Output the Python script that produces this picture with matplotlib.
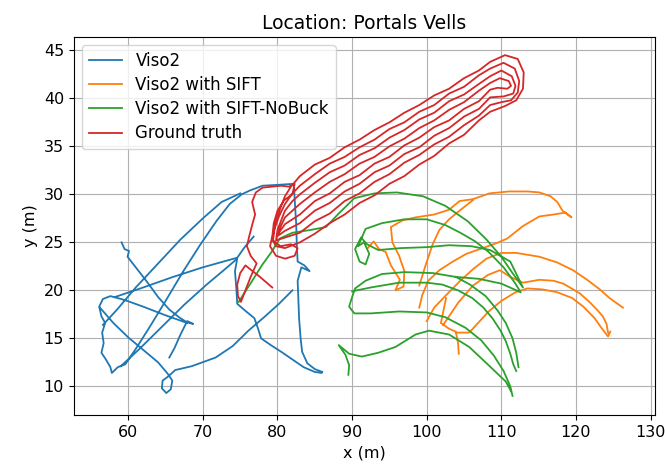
import numpy as np
import matplotlib
matplotlib.use("Agg")
import matplotlib.pyplot as plt

nan = np.nan
GAP = (nan, nan)

# Trajectories (x, y in metres), GAP = break in the drawn line
viso2 = [
    (59.1, 25.0), (59.5, 24.3), (60.1, 24.1), (59.9, 23.5), (61.0, 22.4), (62.5, 20.9), (64.0, 19.3),
    (65.5, 18.0), (66.8, 17.2), (67.8, 16.7), (68.7, 16.5), (67.9, 16.8), (67.0, 15.4), (66.2, 14.0),
    (65.5, 13.0), GAP,
    (67.9, 16.6), (65.0, 17.4), (62.0, 18.3), (59.5, 19.0), (57.6, 19.4), (56.6, 19.1), (56.1, 18.3),
    (56.4, 17.3), (56.9, 16.6), (56.5, 15.6), (56.7, 14.5), (56.4, 13.5), (57.0, 12.8), (57.6, 12.0),
    (57.8, 11.4), (58.6, 12.0), (59.6, 12.3), (61.0, 13.9), (62.8, 16.1), (65.0, 18.9), (67.3, 21.9),
    (69.6, 24.7), (71.8, 27.2), (73.6, 29.0), (75.2, 30.0), (76.3, 30.4), (78.0, 30.9), (80.3, 31.0),
    (82.2, 31.1), (82.3, 29.5), (82.5, 27.0), (82.6, 24.5), (82.7, 23.0), (83.6, 22.6), (84.3, 22.0),
    (83.2, 22.4), (82.7, 21.0), (82.8, 19.0), (82.9, 17.0), (83.1, 15.0), (83.3, 13.6), (84.0, 12.4),
    (85.0, 11.8), (86.0, 11.5), GAP,
    (56.2, 18.2), (58.0, 16.6), (60.0, 15.1), (62.0, 13.8), (64.0, 12.5), (65.3, 11.3), (65.9, 10.6),
    (65.7, 9.7), (65.1, 9.3), (64.5, 9.8), (64.6, 10.6), (65.3, 11.0), (66.3, 11.7), (68.5, 12.1),
    (71.7, 13.0), (74.0, 14.2), (76.1, 15.8), (78.2, 17.2), (80.2, 18.6), (82.0, 20.0), GAP,
    (59.0, 12.1), (61.5, 13.9), (64.5, 16.2), (67.5, 18.5), (70.5, 20.6), (72.8, 22.1), (74.6, 23.3),
    (74.3, 22.0), (74.5, 20.0), (74.6, 18.6), (75.8, 17.8), (76.9, 17.1), (77.4, 16.0), (77.8, 15.0),
    (79.1, 14.3), (80.5, 13.6), (82.0, 12.8), (83.5, 12.0), (85.0, 11.5), (85.9, 11.4), GAP,
    (56.6, 16.4), (58.5, 18.0), (61.0, 20.3), (64.0, 22.8), (67.0, 25.3), (70.0, 27.5), (72.5, 29.2),
    (75.0, 30.1), GAP,
    (58.2, 19.3), (62.0, 20.3), (66.0, 21.4), (70.0, 22.4), (74.6, 23.4), (75.6, 24.5), (76.8, 25.6),
]

viso2_sift = [
    (92.1, 24.4), (92.9, 25.1), (93.6, 24.3), (94.5, 24.0), (95.2, 22.6), (96.4, 21.1), (95.8, 20.0),
    (96.9, 20.4), (97.0, 22.0), (96.3, 23.6), (95.4, 25.0), (95.2, 26.6), (96.8, 27.3), (98.5, 27.6),
    (101.0, 27.9), (103.0, 28.4), (104.4, 29.3), (106.2, 29.5), (108.4, 30.1), (111.0, 30.3),
    (113.5, 30.3), (115.1, 30.2), (116.6, 29.8), (117.5, 29.2), (118.2, 28.3), (119.4, 27.6),
    (118.6, 28.1), (117.0, 27.9), (115.1, 27.7), (112.9, 26.7), (110.8, 25.4), (109.3, 24.9),
    (107.5, 24.4), (105.3, 23.8), (103.5, 23.0), (101.7, 22.1), (100.2, 21.0), (99.4, 19.5),
    (99.0, 18.2), GAP,
    (100.0, 16.8), (101.0, 18.2), (102.6, 19.5), (104.5, 21.0), (106.2, 22.2), (108.0, 23.3),
    (110.0, 23.9), (112.0, 23.9), (115.1, 23.5), (117.5, 22.9), (119.6, 22.1), (121.5, 21.1),
    (123.2, 20.1), (124.5, 19.2), (125.4, 18.7), (126.3, 18.2), GAP,
    (102.2, 16.4), (103.0, 17.3), (104.2, 18.7), (106.2, 20.5), (108.2, 21.6), (109.8, 22.1),
    (111.2, 21.4), (112.9, 20.8), (115.1, 21.1), (117.0, 21.0), (118.3, 20.7), (120.5, 19.7),
    (121.8, 18.8), (122.8, 18.0), (123.6, 17.3), (124.1, 16.5), (124.3, 15.6), GAP,
    (102.6, 19.2), (102.3, 18.1), (101.9, 16.6), (103.0, 16.0), (103.9, 15.7), (104.2, 14.5),
    (104.3, 13.4), GAP,
    (103.9, 15.6), (105.7, 15.6), (107.0, 16.7), (108.3, 17.8), (110.0, 18.9), (111.9, 19.8),
    (113.5, 20.2), (115.5, 20.1), (117.5, 19.8), (119.5, 19.2), (121.0, 18.3), (122.5, 17.1),
    (123.5, 16.0), (124.3, 15.2), (124.6, 15.7), GAP,
    (99.0, 20.5), (99.8, 22.5), (100.8, 24.8), (101.7, 26.3), (103.0, 27.4), (104.4, 28.3),
    (106.2, 29.4),
]

viso2_nobuck = [
    (74.8, 18.8), (75.7, 19.9), (76.7, 21.1), (77.9, 22.6), (79.2, 24.0), (80.3, 25.4), (82.0, 26.0),
    (84.5, 26.3), (86.5, 26.6), (88.2, 28.0), (90.3, 29.6), (93.0, 30.1), (96.0, 30.2), (99.5, 29.8),
    (102.5, 28.8), (105.5, 27.2), (108.0, 25.3), (110.0, 23.5), (111.5, 21.8), (112.9, 20.3),
    (111.2, 23.0), (108.5, 24.2), (106.0, 24.6), (103.0, 24.7), (100.0, 24.5), (96.5, 24.4),
    (93.5, 24.2), (92.0, 24.8), (91.2, 25.5), (90.4, 24.3), (91.0, 23.0), (91.8, 22.7), (92.3, 23.8),
    (91.6, 25.0), (90.8, 24.6), (91.8, 26.4), (94.0, 27.0), (97.0, 27.4), (100.0, 27.4), (102.5, 26.8),
    (104.5, 26.0), (106.5, 25.1), (108.3, 24.0), (110.3, 22.4), (111.8, 20.8), (112.6, 19.8),
    (110.0, 20.7), (107.0, 21.2), (103.9, 21.4), (100.8, 21.8), (97.0, 21.9), (94.0, 21.7),
    (91.8, 21.0), (90.4, 20.2), (90.0, 19.3), (89.6, 18.3), (90.3, 17.6), (92.5, 17.6), (96.3, 17.8),
    (100.0, 17.7), (102.5, 17.2), (105.2, 16.1), (107.3, 14.8), (109.0, 13.2), (110.3, 11.6),
    (111.2, 10.0), (111.5, 9.0), GAP,
    (90.0, 19.9), (92.5, 20.3), (96.3, 20.8), (100.0, 20.8), (102.1, 20.6), (104.2, 20.0),
    (106.1, 19.2), (107.6, 18.2), (108.8, 17.1), (109.9, 15.8), (110.6, 14.7), (111.2, 13.4),
    (111.6, 12.3), (112.0, 11.6), GAP,
    (103.9, 21.4), (105.8, 20.6), (107.9, 19.4), (109.5, 17.9), (110.6, 16.6), (111.5, 15.0),
    (112.0, 13.5), (112.3, 12.0), GAP,
    (89.5, 11.2), (89.6, 12.2), (89.1, 13.3), (88.2, 14.3), (89.6, 13.4), (91.3, 13.1), (93.5, 13.5),
    (95.8, 14.1), (98.5, 15.4), (100.3, 15.8), (103.0, 15.4), (105.7, 14.1), (108.3, 12.2),
    (110.6, 10.5), (111.3, 9.5),
]

ground_truth = [
    (79.3, 20.3), (78.4, 20.9), (77.5, 21.5), (76.5, 22.1), (75.7, 22.6), (75.0, 21.8), (74.6, 20.6),
    (74.7, 19.4), (75.1, 18.8), (75.6, 19.8), (76.4, 21.4), (77.2, 22.8), (76.4, 23.6), (75.9, 24.6),
    (76.2, 25.6), (76.6, 26.8), (77.0, 27.9), (76.6, 29.2), (77.1, 30.2), (78.0, 30.7), (79.3, 30.8),
    (80.5, 30.9), (81.5, 30.8), (82.3, 31.1), (82.0, 30.0), (80.9, 29.4), (80.0, 28.3), (79.5, 27.0),
    (79.3, 25.6), (79.0, 24.6), (79.8, 23.6), (81.0, 23.3), (82.3, 23.6), (82.7, 24.4), (81.8, 24.8),
    (80.4, 24.6), (79.4, 25.2),
    # lap 1
    (79.7, 27.0), (80.4, 28.6), (81.0, 29.8), (81.8, 30.8), (83.0, 31.9), (85.0, 33.1), (87.0, 33.8),
    (89.0, 34.9), (91.0, 35.7), (93.0, 36.7), (95.0, 37.5), (97.0, 38.5), (99.0, 39.3), (101.0, 40.3),
    (103.0, 41.0), (105.0, 42.1), (107.0, 42.9), (108.5, 43.8), (110.5, 44.5), (112.2, 44.1),
    (113.0, 42.7), (112.9, 41.0), (112.0, 39.8), (110.5, 39.2), (108.5, 38.6), (107.0, 37.7),
    (105.0, 36.2), (103.0, 35.3), (101.0, 34.0), (99.0, 33.1), (97.0, 31.9), (95.0, 31.1), (93.0, 29.9),
    (91.0, 29.1), (89.0, 27.9), (87.0, 27.0), (85.0, 25.9), (83.0, 25.0), (81.0, 24.4), (79.8, 24.6),
    (79.3, 25.3),
    # lap 2
    (79.5, 26.2), (80.2, 27.7), (81.0, 29.0), (82.0, 30.1), (83.0, 30.9), (85.0, 32.1), (87.0, 33.2),
    (89.0, 33.9), (91.0, 34.9), (93.0, 35.7), (95.0, 36.8), (97.0, 37.5), (99.0, 38.6), (101.0, 39.3),
    (103.0, 40.5), (105.0, 41.2), (107.0, 42.4), (108.5, 43.1), (110.3, 43.7), (111.8, 43.1),
    (112.4, 41.8), (112.2, 40.6), (111.3, 39.8), (110.0, 39.6), (108.5, 39.3), (107.0, 38.2),
    (105.0, 37.2), (103.0, 36.0), (101.0, 35.2), (99.0, 34.1), (97.0, 33.3), (95.0, 32.1), (93.0, 31.3),
    (91.0, 30.1), (89.0, 29.3), (87.0, 28.0), (85.0, 27.2), (83.0, 26.0), (81.0, 25.5), (79.8, 25.2),
    # lap 3
    (80.0, 26.3), (81.0, 28.3), (82.0, 29.3), (83.0, 30.0), (85.0, 31.2), (87.0, 32.3), (89.0, 33.0),
    (91.0, 34.1), (93.0, 34.8), (95.0, 35.9), (97.0, 36.7), (99.0, 37.8), (101.0, 38.5), (103.0, 39.7),
    (105.0, 40.4), (107.0, 41.5), (108.5, 42.3), (110.0, 42.9), (111.4, 42.3), (111.9, 41.3),
    (111.6, 40.5), (110.3, 40.2), (108.5, 40.1), (107.0, 38.9), (105.0, 38.1), (103.0, 36.9),
    (101.0, 36.1), (99.0, 34.9), (97.0, 34.2), (95.0, 33.0), (93.0, 32.3), (91.0, 31.1), (89.0, 30.3),
    (87.0, 29.1), (85.0, 28.3), (83.0, 27.0), (81.0, 26.2), (79.9, 25.6),
    # lap 4
    (80.4, 26.6), (81.0, 27.6), (83.0, 29.0), (85.0, 30.2), (87.0, 31.3), (89.0, 32.1), (91.0, 33.2),
    (93.0, 33.9), (95.0, 35.0), (97.0, 35.8), (99.0, 36.9), (101.0, 37.7), (103.0, 38.8), (105.0, 39.6),
    (107.0, 40.8), (108.5, 41.6), (109.8, 42.1), (111.0, 41.8), (111.3, 41.3), (110.8, 41.0),
    (109.5, 41.1), (108.5, 40.9), (107.0, 39.7), (105.0, 38.9), (103.0, 37.7), (101.0, 37.0),
    (99.0, 35.9), (97.0, 35.1), (95.0, 33.9), (93.0, 33.2), (91.0, 32.0), (89.0, 31.3), (87.0, 30.1),
    (85.0, 29.3), (83.0, 27.9), (81.0, 26.9), (80.2, 26.0),
]

series = [
    ("Viso2", viso2),
    ("Viso2 with SIFT", viso2_sift),
    ("Viso2 with SIFT-NoBuck", viso2_nobuck),
    ("Ground truth", ground_truth),
]

fig = plt.figure(figsize=(6.65, 4.67), dpi=100)
ax = fig.add_axes([0.111, 0.111, 0.874, 0.810])

for name, pts in series:
    xy = np.array(pts)
    ax.plot(xy[:, 0], xy[:, 1], lw=1.3, label=name)

ax.set_xlim(52.7, 130.6)
ax.set_ylim(7.0, 46.4)
ax.set_xticks(range(60, 131, 10))
ax.set_yticks(range(10, 46, 5))
ax.tick_params(labelsize=11.5)
ax.grid(True)
ax.set_title("Location: Portals Vells", fontsize=13.5)
ax.set_xlabel("x (m)", fontsize=11.5)
ax.set_ylabel("y (m)", fontsize=11.5)
ax.legend(loc="upper left", fontsize=12, labelspacing=0.37)

fig.savefig("out.png", dpi=100)
